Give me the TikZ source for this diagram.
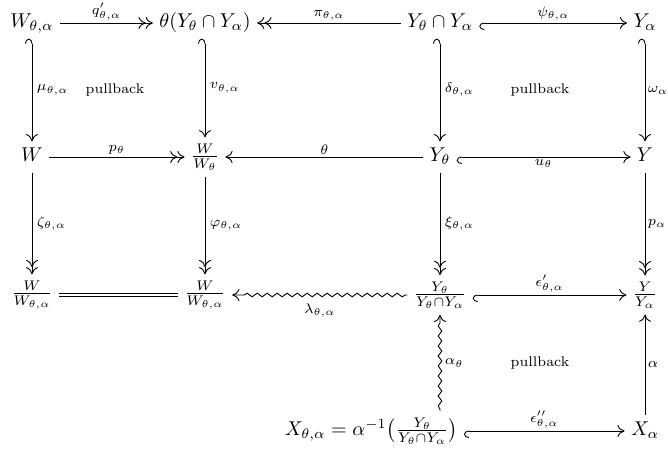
\documentclass[tikz,border=0pt]{standalone}
\usetikzlibrary{arrows.meta,decorations.pathmorphing}
\begin{document}
\begin{tikzpicture}[x=0.5pt,y=-0.5pt,
  >={Computer Modern Rightarrow[length=3.6pt,width=6pt]},
  obj/.style={inner sep=3pt,text height=1.6ex,text depth=0.55ex},
  fobj/.style={inner sep=3pt},
  arr/.style={line width=0.45pt},
  hk/.style={arr,{Hooks[left,length=2.5pt,width=7pt]}->},
  epi/.style={arr,->>},
  mono/.style={arr,->},
  wavy/.style={arr,->,decorate,decoration={snake,amplitude=0.9pt,segment length=5pt,post length=4pt,pre length=1pt}},
  lab/.style={font=\scriptsize,inner sep=1.2pt},
  pb/.style={font=\scriptsize}]
\useasboundingbox (0,0) rectangle (668,453);
% row 1
\node[obj] (A1) at (32,23) {$W_{\theta,\alpha}$};
\node[obj] (A2) at (205,23) {$\theta(Y_\theta\cap Y_\alpha)$};
\node[obj] (A3) at (440,23) {$Y_\theta\cap Y_\alpha$};
\node[obj] (A4) at (645,23) {$Y_\alpha$};
% row 2
\node[obj] (B1) at (32,157) {$W$};
\node[fobj] (B2) at (205,157) {$\frac{W}{W_\theta}$};
\node[obj] (B3) at (440,157) {$Y_\theta$};
\node[obj] (B4) at (645,157) {$Y$};
% row 3
\node[fobj] (C1) at (32,295) {$\frac{W}{W_{\theta,\alpha}}$};
\node[fobj] (C2) at (205,295) {$\frac{W}{W_{\theta,\alpha}}$};
\node[fobj] (C3) at (440,295) {$\frac{Y_\theta}{Y_\theta\cap Y_\alpha}$};
\node[fobj] (C4) at (645,295) {$\frac{Y}{Y_\alpha}$};
% row 4
\node[fobj,anchor=east] (D3) at (464,431) {$X_{\theta,\alpha}=\alpha^{-1}\bigl(\frac{Y_\theta}{Y_\theta\cap Y_\alpha}\bigr)$};
\node[obj] (D4) at (645,431) {$X_\alpha$};
\coordinate (D3t) at (D3.north -| C3);
% horizontal arrows
\draw[epi] (A1) -- node[lab,above]{$q'_{\theta,\alpha}$} (A2);
\draw[epi] (A3) -- node[lab,above]{$\pi_{\theta,\alpha}$} (A2);
\draw[hk] (A3) -- node[lab,above]{$\psi_{\theta,\alpha}$} (A4);
\draw[epi] (B1) -- node[lab,above]{$p_\theta$} (B2);
\draw[mono] (B3) -- node[lab,above]{$\theta$} (B2);
\draw[hk] (B3) -- node[lab,below]{$u_\theta$} (B4);
\draw[arr,double,double distance=1.3pt] (C1) -- (C2);
\draw[wavy] (C3) -- node[lab,below=3pt]{$\lambda_{\theta,\alpha}$} (C2);
\draw[hk] (C3) -- node[lab,above]{$\epsilon'_{\theta,\alpha}$} (C4);
\draw[hk] (D3) -- node[lab,above]{$\epsilon''_{\theta,\alpha}$} (D4);
% vertical arrows
\draw[hk] (A1) -- node[lab,right=1pt]{$\mu_{\theta,\alpha}$} (B1);
\draw[hk] (A2) -- node[lab,right=1pt]{$v_{\theta,\alpha}$} (B2);
\draw[hk] (A3) -- node[lab,right=1pt]{$\delta_{\theta,\alpha}$} (B3);
\draw[hk] (A4) -- node[lab,right=0pt]{$\omega_\alpha$} (B4);
\draw[epi] (B1) -- node[lab,right=1pt]{$\zeta_{\theta,\alpha}$} (C1);
\draw[epi] (B2) -- node[lab,right=1pt]{$\varphi_{\theta,\alpha}$} (C2);
\draw[epi] (B3) -- node[lab,right=1pt]{$\xi_{\theta,\alpha}$} (C3);
\draw[epi] (B4) -- node[lab,right=0pt]{$p_\alpha$} (C4);
\draw[wavy] (D3t) -- node[lab,right=1pt]{$\alpha_\theta$} (C3);
\draw[mono] (D4) -- node[lab,right=0pt]{$\alpha$} (C4);
% pullback labels
\node[pb] (P1) at (115,90) {pullback};
\node[pb] (P2) at (540,90) {pullback};
\node[pb] (P3) at (540,363) {pullback};
\end{tikzpicture}
\end{document}
